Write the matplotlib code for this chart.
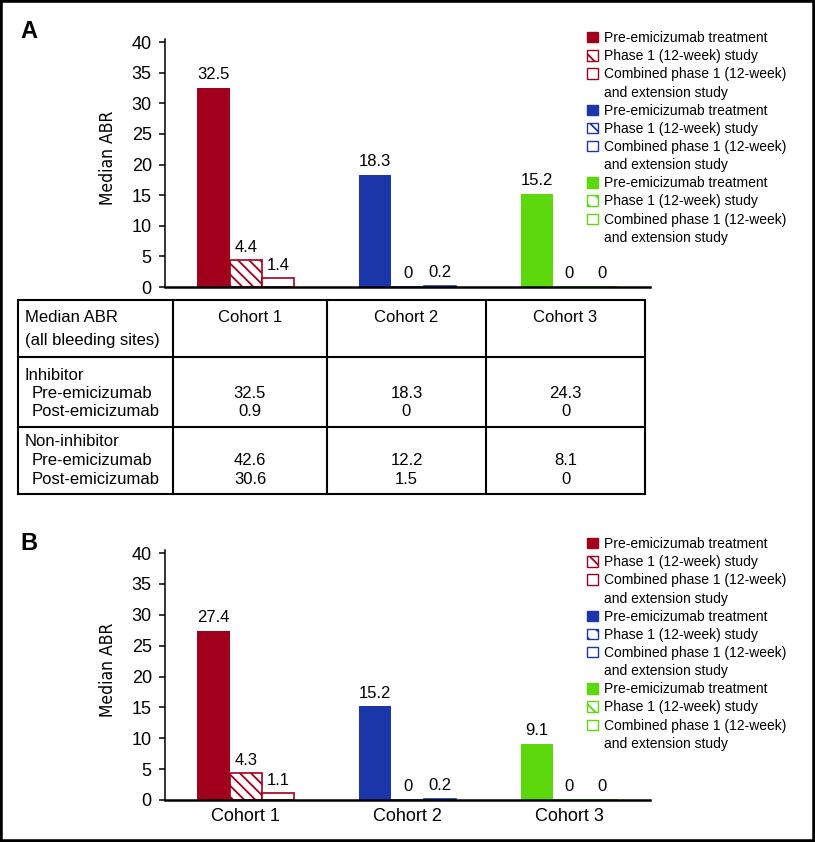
import matplotlib
matplotlib.use('Agg')
import matplotlib.pyplot as plt
from matplotlib.patches import Patch, Rectangle
import numpy as np

plt.rcParams['font.family'] = ['Liberation Sans', 'DejaVu Sans']
plt.rcParams['hatch.linewidth'] = 1.3

# ---- data ----
cohorts = ['Cohort 1', 'Cohort 2', 'Cohort 3']
colors = ['#a0001c', '#1a36a8', '#5cd80c']
legend_rows = ['Pre-emicizumab treatment', 'Phase 1 (12-week) study',
               'Combined phase 1 (12-week)', 'and extension study']

# panel A (all bleeding sites)
a_pre = [32.5, 18.3, 15.2]
a_phase1 = [4.4, 0, 0]
a_combined = [1.4, 0.2, 0]

# panel B
b_pre = [27.4, 15.2, 9.1]
b_phase1 = [4.3, 0, 0]
b_combined = [1.1, 0.2, 0]

# table
inhib_pre = [32.5, 18.3, 24.3]
inhib_post = [0.9, 0, 0]
noninhib_pre = [42.6, 12.2, 8.1]
noninhib_post = [30.6, 1.5, 0]

W, H = 815, 842
fig = plt.figure(figsize=(W / 100, H / 100), dpi=100)


def px(x, y):
    return x / W, 1 - y / H


def draw_panel(ax, pre, phase1, combined, show_x):
    x = np.arange(len(cohorts))
    w = 0.2
    b1 = ax.bar(x - w, pre, w, color=colors, linewidth=0)
    b2 = ax.bar(x, phase1, w, facecolor='white', edgecolor=colors,
                hatch='\\\\\\', linewidth=1.2)
    b3 = ax.bar(x + w, combined, w, facecolor='white', edgecolor=colors,
                linewidth=1.2)
    for c, vals in [(b1, pre), (b2, phase1), (b3, combined)]:
        ax.bar_label(c, labels=[f'{v:g}' for v in vals], padding=4, fontsize=12)
    ax.set_xlim(-0.5, 2.5)
    ax.set_ylim(0, 40.5)
    ax.set_yticks(range(0, 41, 5))
    ax.spines['top'].set_visible(False)
    ax.spines['right'].set_visible(False)
    ax.spines['left'].set_linewidth(1.1)
    ax.spines['bottom'].set_linewidth(1.8)
    ax.tick_params(axis='y', length=4.5, width=1.1, pad=5, labelsize=13)
    ax.set_xticks(x)
    if show_x:
        ax.set_xticklabels(cohorts, fontsize=13)
        ax.tick_params(axis='x', length=0, pad=6)
    else:
        ax.tick_params(axis='x', length=0, labelbottom=False)
    ax.set_ylabel('Median ABR', fontsize=12.5, family='DejaVu Sans',
                  fontstretch='condensed')
    ax.yaxis.set_label_coords(-0.098, 0.52)


def add_legend(ax, top):
    handles = []
    labels = []
    for c in colors:
        handles += [Patch(facecolor=c, edgecolor=c),
                    Patch(facecolor='white', edgecolor=c, hatch='\\\\', linewidth=1),
                    Patch(facecolor='white', edgecolor=c, linewidth=1),
                    Patch(facecolor='none', edgecolor='none')]
        labels += legend_rows
    ax.legend(handles, labels, loc='upper left', bbox_to_anchor=px(587, top),
              bbox_transform=fig.transFigure, frameon=False, fontsize=10,
              borderpad=0, borderaxespad=0, handlelength=0.8, handleheight=0.8,
              handletextpad=0.4, labelspacing=0.3)


# table drawn in pixel space
tab = fig.add_axes([0, 0, 1, 1])
tab.set_xlim(0, W)
tab.set_ylim(H, 0)
tab.axis('off')
col_edges = [18, 173, 327, 486, 645]
row_edges = [300, 357, 427, 494]
for xe in col_edges:
    tab.plot([xe, xe], [row_edges[0], row_edges[-1]], color='black', lw=1.5)
for ye in row_edges:
    tab.plot([col_edges[0], col_edges[-1]], [ye, ye], color='black', lw=1.5)
centers = [(col_edges[i] + col_edges[i + 1]) / 2 for i in range(1, 4)]
tab.text(25, 318, 'Median ABR', fontsize=12, va='center')
tab.text(25, 340, '(all bleeding sites)', fontsize=12, va='center')
for cx, name in zip(centers, cohorts):
    tab.text(cx, 318, name, fontsize=12, va='center', ha='center')
blocks = [('Inhibitor', 375, inhib_pre, inhib_post),
          ('Non-inhibitor', 442, noninhib_pre, noninhib_post)]
for name, y0, pre_vals, post_vals in blocks:
    tab.text(25, y0, name, fontsize=12, va='center')
    tab.text(32, y0 + 18.5, 'Pre-emicizumab', fontsize=12, va='center')
    tab.text(32, y0 + 37, 'Post-emicizumab', fontsize=12, va='center')
    for cx, v1, v2 in zip(centers, pre_vals, post_vals):
        tab.text(cx, y0 + 18.5, f'{v1:g}', fontsize=12, va='center', ha='center')
        tab.text(cx, y0 + 37, f'{v2:g}', fontsize=12, va='center', ha='center')

# panel A
axA = fig.add_axes([165 / W, 1 - 287 / H, 485 / W, 248 / H])
draw_panel(axA, a_pre, a_phase1, a_combined, False)
add_legend(axA, 31)
fig.text(*px(20, 38), 'A', fontsize=17, fontweight='bold', va='baseline')

# panel B
axB = fig.add_axes([165 / W, 1 - 800 / H, 485 / W, 250 / H])
draw_panel(axB, b_pre, b_phase1, b_combined, True)
add_legend(axB, 537)
fig.text(*px(20, 550), 'B', fontsize=17, fontweight='bold', va='baseline')

fig.patches.append(Rectangle((0, 0), 1, 1, transform=fig.transFigure,
                             fill=False, edgecolor='black', linewidth=4))

fig.savefig('out.png', dpi=100)
